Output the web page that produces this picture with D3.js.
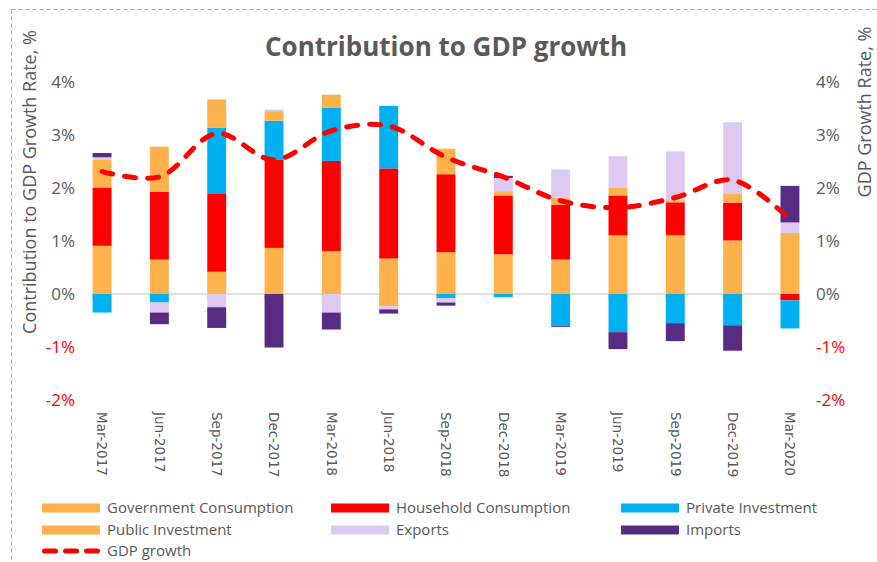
<!DOCTYPE html>
<html>
<head>
<meta charset="utf-8">
<script src="https://cdn.jsdelivr.net/npm/d3@7"></script>
<style>
  html, body { margin: 0; padding: 0; background: #fff; }
  svg { display: block; font-family: 'Open Sans', sans-serif; }
</style>
</head>
<body>
<div id="chart"></div>
<script>
// contribution to GDP growth - stacked bars + GDP growth line

const quarters = ['Mar-2017', 'Jun-2017', 'Sep-2017', 'Dec-2017', 'Mar-2018', 'Jun-2018', 'Sep-2018',
  'Dec-2018', 'Mar-2019', 'Jun-2019', 'Sep-2019', 'Dec-2019', 'Mar-2020']

const govConsumption = [0.91, 0.65, 0.42, 0.87, 0.81, 0.67, 0.79, 0.75, 0.65, 1.11, 1.11, 1.01, 1.15]
const householdConsumption = [1.10, 1.28, 1.48, 1.67, 1.70, 1.70, 1.47, 1.11, 1.03, 0.75, 0.62, 0.71, -0.12]
const privateInvestment = [-0.35, -0.16, 1.24, 0.73, 1.00, 1.18, -0.08, -0.06, -0.60, -0.72, -0.55, -0.59, -0.53]
const publicInvestment = [0.53, 0.85, 0.53, 0.18, 0.25, -0.23, 0.48, 0.08, 0.14, 0.14, 0.04, 0.18, 0]
const exportsContrib = [0.04, -0.19, -0.25, 0.03, -0.35, -0.06, -0.08, 0.25, 0.53, 0.60, 0.92, 1.34, 0.20]
const importsContrib = [0.08, -0.22, -0.39, -1.01, -0.32, -0.08, -0.06, 0.04, -0.02, -0.32, -0.34, -0.48, 0.69]
const gdpGrowth = [2.31, 2.21, 3.03, 2.53, 3.08, 3.17, 2.58, 2.21, 1.76, 1.63, 1.82, 2.15, 1.41]

const yTicks = [-2, -1, 0, 1, 2, 3, 4]

const series = [
  { key: 'Government Consumption', values: govConsumption, color: '#FFB24C' },
  { key: 'Household Consumption', values: householdConsumption, color: '#FF0000' },
  { key: 'Private Investment', values: privateInvestment, color: '#00B0F0' },
  { key: 'Public Investment', values: publicInvestment, color: '#FFB24C' },
  { key: 'Exports', values: exportsContrib, color: '#DEC9F1' },
  { key: 'Imports', values: importsContrib, color: '#582C83' }
]

const width = 877
const height = 562
const textGray = '#595959'

const svg = d3.select('#chart')
  .append('svg')
  .attr('width', width)
  .attr('height', height)

// outer dashed chart border
svg.append('rect')
  .attr('x', 11.5).attr('y', 9.5)
  .attr('width', 900).attr('height', 600)
  .attr('fill', 'none')
  .attr('stroke', '#a6a6a6')
  .attr('stroke-dasharray', '4,3')

const x = d3.scaleBand()
  .domain(quarters)
  .range([73.4, 818.6])
  .paddingInner(0.67)
  .paddingOuter(0.335)

const y = d3.scaleLinear()
  .domain([-2, 4])
  .range([400, 82])

// table for the stack
const rows = quarters.map((q, i) => {
  const r = { quarter: q }
  series.forEach(s => { r[s.key] = s.values[i] })
  return r
})

const stacked = d3.stack()
  .keys(series.map(s => s.key))
  .offset(d3.stackOffsetDiverging)(rows)

// zero line and small ticks
const x0 = x(quarters[0])
const x1 = x(quarters[quarters.length - 1]) + x.bandwidth()
svg.append('line')
  .attr('x1', x0).attr('x2', x1)
  .attr('y1', y(0)).attr('y2', y(0))
  .attr('stroke', '#d9d9d9')
  .attr('stroke-width', 1.5)

svg.append('g')
  .selectAll('line')
  .data(quarters)
  .join('line')
  .attr('x1', d => x(d)).attr('x2', d => x(d))
  .attr('y1', y(0)).attr('y2', y(0) + 5)
  .attr('stroke', '#d9d9d9')

// bars
svg.append('g')
  .selectAll('g')
  .data(stacked)
  .join('g')
  .attr('fill', (d, i) => series[i].color)
  .selectAll('rect')
  .data(d => d)
  .join('rect')
  .attr('x', d => x(d.data.quarter))
  .attr('width', x.bandwidth())
  .attr('y', d => y(Math.max(d[0], d[1])))
  .attr('height', d => Math.abs(y(d[0]) - y(d[1])))

// GDP growth line
const line = d3.line()
  .x((d, i) => x(quarters[i]) + x.bandwidth() / 2)
  .y(d => y(d))
  .curve(d3.curveCatmullRom.alpha(0.5))

svg.append('path')
  .datum(gdpGrowth)
  .attr('d', line)
  .attr('fill', 'none')
  .attr('stroke', '#FF0000')
  .attr('stroke-width', 5)
  .attr('stroke-linecap', 'round')
  .attr('stroke-dasharray', '11,12')

// y tick labels both sides
const fmt = d => d + '%'
svg.append('g')
  .selectAll('text')
  .data(yTicks)
  .join('text')
  .attr('x', 75)
  .attr('y', d => y(d))
  .attr('dy', '0.35em')
  .attr('text-anchor', 'end')
  .attr('font-size', 17)
  .attr('fill', d => d < 0 ? '#FF0000' : textGray)
  .text(fmt)

svg.append('g')
  .selectAll('text')
  .data(yTicks)
  .join('text')
  .attr('x', 816)
  .attr('y', d => y(d))
  .attr('dy', '0.35em')
  .attr('text-anchor', 'start')
  .attr('font-size', 17)
  .attr('fill', d => d < 0 ? '#FF0000' : textGray)
  .text(fmt)

// x labels, rotated
svg.append('g')
  .selectAll('text')
  .data(quarters)
  .join('text')
  .attr('transform', d => `translate(${x(d) + x.bandwidth() / 2},412) rotate(90)`)
  .attr('dy', '0.35em')
  .attr('font-family', "'DejaVu Sans', sans-serif")
  .attr('font-size', 13.5)
  .attr('fill', textGray)
  .text(d => d)

// title and axis titles
svg.append('text')
  .attr('x', 446).attr('y', 56)
  .attr('text-anchor', 'middle')
  .attr('font-size', 26)
  .attr('font-weight', 'bold')
  .attr('fill', textGray)
  .text('Contribution to GDP growth')

svg.append('text')
  .attr('transform', 'translate(30,182) rotate(-90)')
  .attr('dy', '0.35em')
  .attr('text-anchor', 'middle')
  .attr('font-size', 18)
  .attr('fill', textGray)
  .text('Contribution to GDP Growth Rate, %')

svg.append('text')
  .attr('transform', 'translate(865,112) rotate(-90)')
  .attr('dy', '0.35em')
  .attr('text-anchor', 'middle')
  .attr('font-size', 18)
  .attr('fill', textGray)
  .text('GDP Growth Rate, %')

// legend
const legendCols = [42, 331, 621]
const legendRows = [508, 530, 551]
const legend = svg.append('g')
  .selectAll('g')
  .data(series)
  .join('g')
  .attr('transform', (d, i) => `translate(${legendCols[i % 3]},${legendRows[Math.floor(i / 3)]})`)

legend.append('rect')
  .attr('x', 0).attr('y', -4.5)
  .attr('width', 58).attr('height', 9)
  .attr('fill', d => d.color)

legend.append('text')
  .attr('x', 65)
  .attr('dy', '0.35em')
  .attr('font-size', 15)
  .attr('fill', textGray)
  .text(d => d.key)

const gdpLegend = svg.append('g')
  .attr('transform', `translate(${legendCols[0]},${legendRows[2]})`)
gdpLegend.append('line')
  .attr('x1', 2.5).attr('x2', 56)
  .attr('stroke', '#FF0000')
  .attr('stroke-width', 5)
  .attr('stroke-linecap', 'round')
  .attr('stroke-dasharray', '11,10')
gdpLegend.append('text')
  .attr('x', 65)
  .attr('dy', '0.35em')
  .attr('font-size', 15)
  .attr('fill', textGray)
  .text('GDP growth')
</script>
</body>
</html>
